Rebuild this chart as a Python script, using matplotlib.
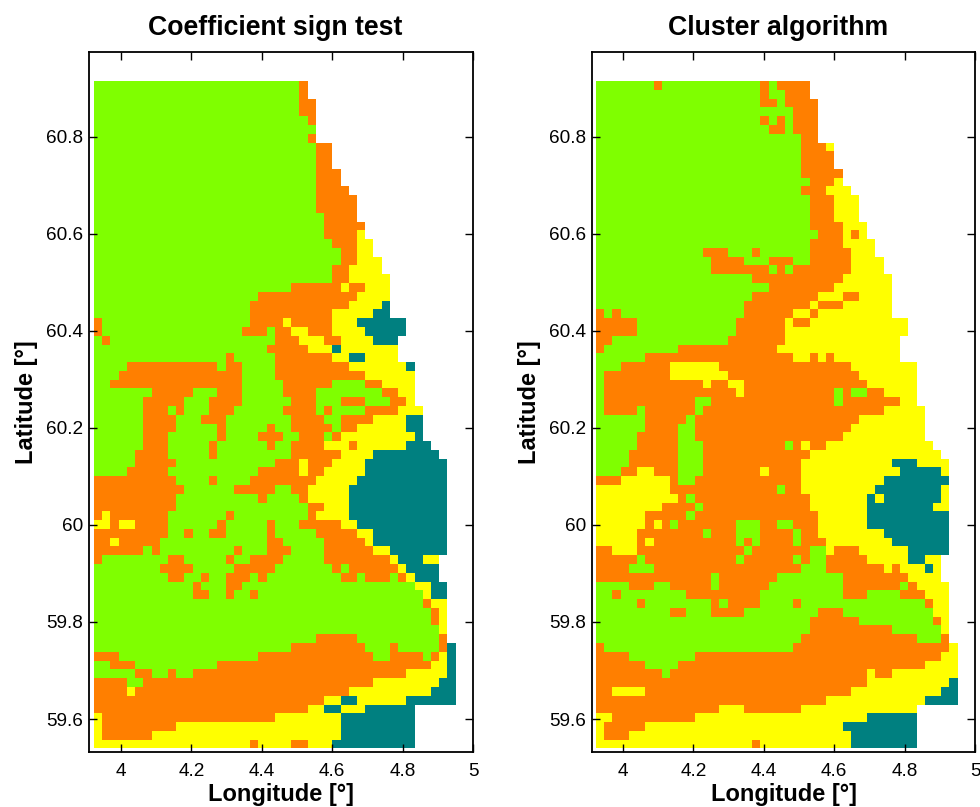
import re
import numpy as np
import matplotlib
matplotlib.use('Agg')
import matplotlib.pyplot as plt
from matplotlib.colors import ListedColormap

plt.rcParams['font.family'] = ['Liberation Sans', 'DejaVu Sans']

# classes per grid row, north to south, as runs: letter + number of cells
# g green, o orange, y yellow, t teal, the rest of a row stays empty
sign_test = [
    'g25 o1', 'g25 o1', 'g25 o2', 'g25 o2', 'g26 o1', 'g27', 'g26 o1', 'g27 o2', 'g27 o2', 'g27 o2',
    'g27 o3', 'g27 o3', 'g27 o4', 'g27 o5', 'g27 o5', 'g28 o4', 'g28 o5', 'g28 o4 y1', 'g29 o3 y2', 'g30 o2 y2',
    'g30 o2 y3', 'g29 o2 y4', 'g29 o2 y5', 'g24 o6 y1 o2 y3', 'g20 o12 y4', 'g19 o12 y4 t1', 'g19 o10 y5 t2',
    'o1 g18 o4 y1 o5 y3 t6', 'o1 g17 o3 g1 o2 y2 o3 y4 t5', 'g1 o1 g20 o3 y3 o2 y4 t3', 'g21 o5 y3 t1 y7',
    'g16 o1 g5 o7 y2 t2 y4', 'g4 o11 g1 o2 g4 o9 y7 t1', 'g3 o15 g4 o11 y6', 'g2 o16 g5 o6 g4 o2 y4',
    'g7 o5 g3 o3 g5 o4 g8 o2 y2', 'g6 o5 g3 o4 g6 o3 g3 o3 g3 o2 y1', 'g6 o3 g1 o1 g3 o3 g6 o4 g1 o1 g4 o4 y3',
    'g6 o4 g3 o3 g8 o4 g2 o4 y4 t2', 'g6 o4 g5 o1 g5 o1 g2 o5 g1 o2 y6 t2', 'g6 o3 g6 o1 g4 o3 g2 o3 g1 o1 y9 t1',
    'g6 o3 g5 o1 g6 o1 g2 o4 y3 o1 y6 t3', 'g5 o4 g5 o1 g9 o6 y4 t8', 'g5 o5 g12 o3 y1 o3 y4 t10',
    'g4 o5 g11 o5 y1 o2 y5 t10', 'o10 g4 o1 g4 o8 y5 t11', 'o11 g6 o5 g2 o2 y5 t12', 'o10 g10 o1 g4 o1 y5 t12',
    'o10 g16 o2 y3 t12', 'o1 y1 o7 g7 o1 g9 o1 y4 t12', 'y2 o1 y2 o4 g6 o1 g5 o1 g3 o5 y2 t11',
    'o9 g2 o1 g2 o2 g5 o1 g5 o5 y2 t9', 'o2 y1 o5 g13 o2 g5 o5 y1 t9', 'o6 g1 o1 g9 o1 g3 o3 g4 o6 y2 t7',
    'o1 g8 o2 g5 o1 g2 o4 g5 o8 y1 t3 y2', 'g8 o4 g5 o5 g7 o1 g1 o6 y1 t4',
    'g9 o2 g2 o1 g2 o3 g1 o1 g9 o2 g1 o3 g1 o1 y1 t3', 'g12 o1 g3 o2 g21 y2 t2', 'g12 o2 g2 o1 g2 o1 g20 y1 t2',
    'g40 o1 y2', 'g41 o1 y1', 'g41 o1 y1', 'g42 y1', 'g27 o5 g10 o1', 'g24 o9 g3 o1 g5 o1 t1',
    'o3 g17 o14 g2 o4 g1 o1 y1 t1', 'g2 o3 g10 o26 y2 t1', 'g5 o2 g2 o1 g2 o26 y5 t1', 'o4 g2 o28 y8 t2',
    'o4 y1 o26 y10 t3', 'o28 y2 t2 y6 t6', 'o26 y2 t2 y3 t6', 'y1 o21 y8 t9', 'y1 o9 y20 t9', 'y1 o6 y23 t9',
    'y19 o1 y4 o2 y3 t10',
]

cluster = [
    'g7 o1 g12 o1 g1 o4', 'g20 o1 g2 o3', 'g20 o2 g1 o4', 'g24 o3', 'g20 o1 g1 o1 g1 o3', 'g21 o2 g1 o3', 'g25 o2',
    'g25 o3 y1', 'g25 o4', 'g25 o4', 'g25 o5', 'g26 o3 y1', 'g25 o3 y3', 'g26 o3 y3', 'g26 o3 y3', 'g26 o3 y3',
    'g26 o4 y3', 'g27 o3 y1 o1 y1', 'g26 o4 y4', 'g13 o3 g3 o1 g6 o5 y3', 'g14 o4 g3 o3 g2 o5 y4',
    'g14 o7 g1 o1 g1 o7 y4', 'g19 o11 y6', 'g21 o8 y7', 'g19 o8 y3 o2 y4', 'g18 o8 y1 o3 y6',
    'o1 g1 o1 g15 o6 y2 o1 y9', 'o5 g12 o6 y1 o2 y12', 'o5 g12 o6 y15', 'o2 g14 o7 y14', 'o1 g9 o12 y15',
    'g6 o18 y2 o1 y1 o1 y8', 'g3 o6 y6 o16 y8', 'g1 o8 y7 o16 y7', 'g1 o12 y1 o2 y2 o15 y6',
    'g1 o16 y1 o11 g1 o1 g2 o2 y4', 'g1 o11 g2 o15 g1 o7 y2', 'g1 o4 g1 o6 g1 o22 y5', 'g6 o5 g1 o20 y8',
    'g6 o4 g2 o19 y9', 'g5 o5 g2 o18 y10', 'g5 o5 g3 o10 g1 o1 y1 o2 y13', 'g4 o6 g3 o13 y16',
    'g4 o6 g3 o12 y11 t3 y4', 'g3 o2 y2 o3 g3 o7 y1 o4 y12 t5 y1', 'o3 y6 o1 g2 o13 y10 t8',
    'y9 o13 g1 o2 y9 t8 y1', 'y10 o1 g1 o14 y7 t1 y1 t7 y1', 'y8 o4 g1 o13 y7 t8 y2', 'y6 o5 g1 o15 y6 t10',
    'y6 o1 y1 o1 g1 o7 g3 o2 g2 o3 y6 t10', 'y5 o8 g1 o3 g3 o4 g1 o2 y8 t8',
    'y5 o1 y1 o10 g1 o1 g1 o4 g1 o3 y8 t7', 'o2 y3 o13 g1 o7 g2 y1 o3 y6 t5',
    'o5 g1 o11 g1 o6 g1 o1 g2 o5 y5 t2 y2', 'o4 g3 o18 g3 o7 y1 o1 y3 t1 y1', 'o14 g1 o7 g8 o8 y4',
    'g4 o3 g2 o5 g1 o6 g9 o7 g1 o1 y4', 'g2 o1 g8 o9 g10 o3 g4 o3 y3', 'g5 o1 g8 o1 g1 o4 g4 o1 g15 o1 y2',
    'g9 o2 g3 o4 g9 o3 g11 y2', 'g26 o6 g9 o1 y1', 'g26 o10 g6 y1', 'g25 o14 g3 o1', 'o1 g23 o19 y1',
    'o4 g8 o30 y2', 'o6 g4 o30 y4', 'o8 g1 o24 y1 o2 y8', 'o33 y10 t1', 'o2 y4 o25 y11 t2', 'o28 y12 t4',
    'o15 y3 o7 y14', 'y2 o10 y21 t6', 'y1 o5 y24 t9', 'y1 o3 y27 t8', 'y19 o1 y11 t8',
]

titles = ['Coefficient sign test', 'Cluster algorithm']
x_ticks = [4, 4.2, 4.4, 4.6, 4.8, 5]
x_labels = ['4', '4.2', '4.4', '4.6', '4.8', '5']
y_ticks = [59.6, 59.8, 60, 60.2, 60.4, 60.6, 60.8]
y_labels = ['59.6', '59.8', '60', '60.2', '60.4', '60.6', '60.8']

W, H = 980, 807
N_COLS, N_ROWS = 44, 76
CODES = {'g': 0, 'o': 1, 'y': 2, 't': 3}
cmap = ListedColormap(['#7FFF00', '#FF7F00', '#FFFF00', '#008080'])


def decode(rows):
    grid = np.full((N_ROWS, N_COLS), np.nan)
    for i, row in enumerate(rows):
        col = 0
        for letter, n in re.findall(r'([a-z])(\d+)', row):
            grid[i, col:col + int(n)] = CODES[letter]
            col += int(n)
    return grid


lon_edges = 3.9233 + 0.02335 * np.arange(N_COLS + 1)
lat_edges = 60.915 - 0.0181 * np.arange(N_ROWS + 1)

fig = plt.figure(figsize=(W / 100, H / 100), dpi=100)
boxes = [(89, 473, 3.909), (592, 975, 3.9119)]

for rows, title, (x0, x1, lon_min) in zip([sign_test, cluster], titles, boxes):
    ax = fig.add_axes([x0 / W, 1 - 752 / H, (x1 - x0) / W, 700 / H])
    ax.pcolormesh(lon_edges, lat_edges, decode(rows), cmap=cmap, vmin=0, vmax=3)
    ax.set_xlim(lon_min, 5)
    ax.set_ylim(59.532, 60.975)
    ax.set_xticks(x_ticks, x_labels)
    ax.set_yticks(y_ticks, y_labels)
    ax.tick_params(direction='in', top=True, right=True, length=6, width=1, labelsize=13.7, pad=4)
    ax.tick_params(axis='x', pad=8)
    for spine in ax.spines.values():
        spine.set_linewidth(1.3)
    ax.set_title(title, fontsize=19.2, fontweight='bold', x=0.485, pad=12)
    ax.set_xlabel('Longitude [°]', fontsize=17, fontweight='bold', labelpad=2)
    ax.set_ylabel('Latitude [°]', fontsize=17, fontweight='bold', labelpad=6)

fig.savefig('out.png', dpi=100)
